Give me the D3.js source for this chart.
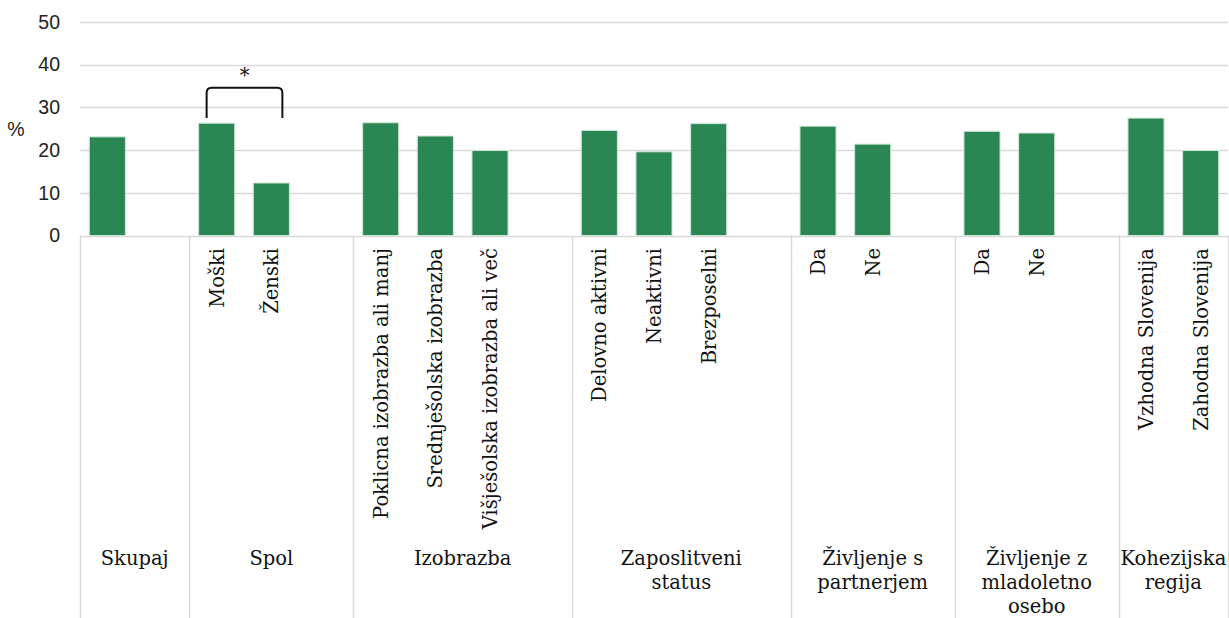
<!DOCTYPE html>
<html>
<head>
<meta charset="utf-8">
<script src="https://cdn.jsdelivr.net/npm/d3@7"></script>
<style>
  body { margin: 0; background: #fff; }
  .ytick { font-family: "Liberation Sans", Arial, sans-serif; font-size: 19.5px; fill: #222; }
  .cat { font-family: "DejaVu Serif", serif; font-size: 19.5px; fill: #111; }
</style>
</head>
<body>
<div id="chart"></div>
<script>
// data
var groups = ["Skupaj", "Spol", "Izobrazba", "Zaposlitveni status", "Življenje s partnerjem", "Življenje z mladoletno osebo", "Kohezijska regija"];
var groupLines = [["Skupaj"], ["Spol"], ["Izobrazba"], ["Zaposlitveni", "status"], ["Življenje s", "partnerjem"], ["Življenje z", "mladoletno", "osebo"], ["Kohezijska", "regija"]];
var categories = [
  ["Skupaj", ""],
  ["Spol", "Moški"], ["Spol", "Ženski"],
  ["Izobrazba", "Poklicna izobrazba ali manj"], ["Izobrazba", "Srednješolska izobrazba"], ["Izobrazba", "Višješolska izobrazba ali več"],
  ["Zaposlitveni status", "Delovno aktivni"], ["Zaposlitveni status", "Neaktivni"], ["Zaposlitveni status", "Brezposelni"],
  ["Življenje s partnerjem", "Da"], ["Življenje s partnerjem", "Ne"],
  ["Življenje z mladoletno osebo", "Da"], ["Življenje z mladoletno osebo", "Ne"],
  ["Kohezijska regija", "Vzhodna Slovenija"], ["Kohezijska regija", "Zahodna Slovenija"]
];
var values = [23.1, 26.3, 12.3, 26.4, 23.3, 19.9, 24.6, 19.6, 26.2, 25.6, 21.4, 24.4, 24.0, 27.5, 19.9];
var yTicks = [0, 10, 20, 30, 40, 50];
// significance bracket between Moški and Ženski
var sigPair = [1, 2];
var sigLevels = [34.6, 27.5];

var W = 1229, H = 618;
var margin = { top: 22, right: 1, bottom: 0, left: 80 };
var plotBottom = 235.5;

// build slots: each group followed by one empty slot (except the last)
var slots = [];
var barSlot = [];
groups.forEach(function(g, gi) {
  categories.forEach(function(c, i) {
    if (c[0] === g) {
      barSlot[i] = slots.length;
      slots.push("s" + slots.length);
    }
  });
  if (gi < groups.length - 1) slots.push("s" + slots.length);
});

var svg = d3.select("#chart").append("svg").attr("width", W).attr("height", H);

var x = d3.scaleBand()
  .domain(slots)
  .range([margin.left, W - margin.right])
  .paddingInner(0.34)
  .paddingOuter(0.17);
var step = x.step();
var slotStart = function(k) { return margin.left + k * step; };

var y = d3.scaleLinear().domain([0, 50]).range([plotBottom, margin.top]);

// gridlines
svg.selectAll(".grid")
  .data(yTicks)
  .enter()
  .append("line")
  .attr("x1", margin.left)
  .attr("x2", W - margin.right)
  .attr("y1", function(d) { return Math.round(y(d)) + 0.5; })
  .attr("y2", function(d) { return Math.round(y(d)) + 0.5; })
  .attr("stroke", "#d9d9d9")
  .attr("stroke-width", 1.5);

// y axis labels
var yAxis = d3.axisLeft(y).tickValues(yTicks).tickSize(0).tickPadding(20);
var gy = svg.append("g")
  .attr("transform", "translate(" + margin.left + ",0)")
  .call(yAxis);
gy.select(".domain").remove();
gy.selectAll("text").attr("class", "ytick").attr("font-size", null).attr("font-family", null);
gy.attr("font-size", null).attr("font-family", null);

svg.append("text")
  .attr("class", "ytick")
  .attr("x", 16)
  .attr("y", 136)
  .attr("text-anchor", "middle")
  .text("%");

// bars
svg.selectAll(".bar")
  .data(values)
  .enter()
  .append("rect")
  .attr("class", "bar")
  .attr("x", function(d, i) { return x(slots[barSlot[i]]); })
  .attr("width", x.bandwidth())
  .attr("y", function(d) { return y(d); })
  .attr("height", function(d) { return plotBottom - y(d); })
  .attr("fill", "#2a8754")
  .attr("stroke", "#cfe6d8")
  .attr("stroke-width", 1);

// group dividers
var bounds = [0];
groups.forEach(function(g, gi) {
  var last = 0;
  categories.forEach(function(c, i) { if (c[0] === g) last = barSlot[i]; });
  bounds.push(gi < groups.length - 1 ? last + 2 : last + 1);
});
svg.selectAll(".div")
  .data(bounds)
  .enter()
  .append("line")
  .attr("x1", function(d) { return Math.round(slotStart(d)) + 0.5; })
  .attr("x2", function(d) { return Math.round(slotStart(d)) + 0.5; })
  .attr("y1", plotBottom)
  .attr("y2", H)
  .attr("stroke", "#d9d9d9")
  .attr("stroke-width", 1.5);

// category labels (rotated)
svg.selectAll(".catlab")
  .data(categories)
  .enter()
  .append("text")
  .attr("class", "cat")
  .attr("text-anchor", "end")
  .attr("transform", function(d, i) {
    var cx = x(slots[barSlot[i]]) + x.bandwidth() / 2;
    return "translate(" + (cx + 7) + ",248) rotate(-90)";
  })
  .text(function(d) { return d[1]; });

// group labels
groups.forEach(function(g, gi) {
  var cx = (slotStart(bounds[gi]) + slotStart(bounds[gi + 1])) / 2;
  var t = svg.append("text")
    .attr("class", "cat")
    .attr("text-anchor", "middle")
    .attr("x", cx)
    .attr("y", 565);
  groupLines[gi].forEach(function(line, li) {
    t.append("tspan").attr("x", cx).attr("dy", li === 0 ? 0 : 24).text(line);
  });
});

// significance bracket
var bx1 = x(slots[barSlot[sigPair[0]]]) + 8;
var bx2 = x(slots[barSlot[sigPair[1]]]) + x.bandwidth() - 7;
var by1 = y(sigLevels[0]), by2 = y(sigLevels[1]), r = 5;
svg.append("path")
  .attr("d", "M" + bx1 + "," + by2 + " L" + bx1 + "," + (by1 + r) +
    " Q" + bx1 + "," + by1 + " " + (bx1 + r) + "," + by1 +
    " L" + (bx2 - r) + "," + by1 +
    " Q" + bx2 + "," + by1 + " " + bx2 + "," + (by1 + r) +
    " L" + bx2 + "," + by2)
  .attr("fill", "none")
  .attr("stroke", "#111")
  .attr("stroke-width", 2);
svg.append("text")
  .attr("class", "cat")
  .attr("text-anchor", "middle")
  .attr("x", (bx1 + bx2) / 2)
  .attr("y", by1 - 6)
  .text("*");
</script>
</body>
</html>
